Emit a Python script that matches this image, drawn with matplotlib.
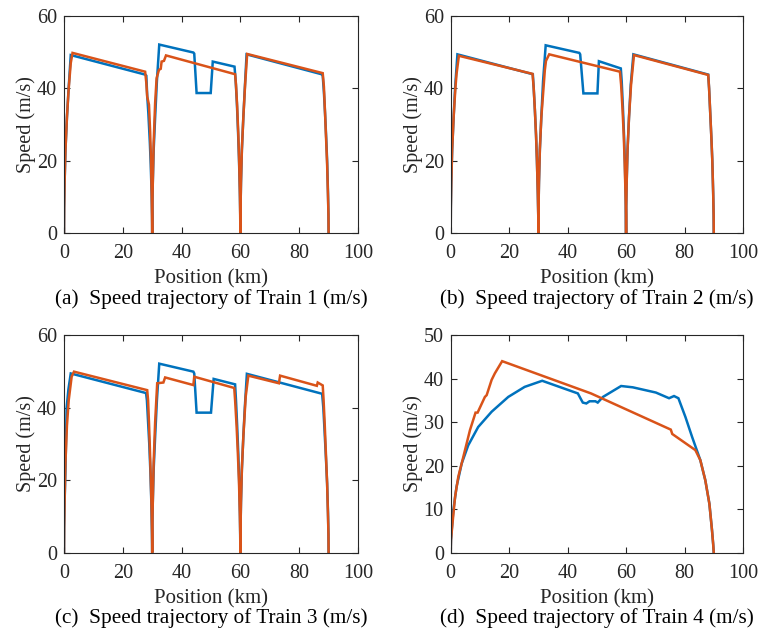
import matplotlib
matplotlib.use("Agg")
import matplotlib.pyplot as plt

plt.rcParams['font.family'] = ['Liberation Serif', 'DejaVu Serif']
plt.rcParams['font.size'] = 14

BLUE = '#0072BD'
ORANGE = '#D95319'

# ---------------- data (position km, speed m/s) ----------------
A_BLUE_X = [0, 0.05, 0.2, 0.5, 1.0, 1.5, 2.3, 27.6, 28.0, 28.3, 28.7, 29.2, 29.5, 29.8, 29.95, 30,
            30.05, 30.2, 30.5, 31.0, 31.6, 32.4, 44.0, 44.3, 45.1, 49.9, 50.6, 58.0,
            58.4, 58.8, 59.2, 59.5, 59.8, 59.95, 60,
            60.05, 60.2, 60.5, 61.0, 61.5, 62.1, 87.6, 88.0, 88.4, 88.8, 89.2, 89.5, 89.8, 89.95, 90]
A_BLUE_V = [0, 7, 14, 23, 32, 39, 49.2, 43.8, 43.5, 38, 33, 25, 19, 11, 5, 0,
            7, 14, 23, 32, 42, 52.1, 49.9, 49.6, 38.7, 38.7, 47.4, 46.0,
            42, 36, 28, 21, 12, 5, 0,
            7, 14, 23, 32, 40, 49.4, 43.9, 43.5, 39, 33, 26, 20, 11, 5, 0]

A_ORANGE_X = [0, 0.05, 0.2, 0.5, 1.0, 1.6, 2.3, 2.9, 27.6, 28.0, 28.3, 28.9, 29.3, 29.6, 29.85, 30,
              30.05, 30.2, 30.5, 31.0, 31.5, 32.3, 32.9, 33.2, 34.0, 34.7, 58.2,
              58.5, 58.9, 59.3, 59.6, 59.85, 60,
              60.05, 60.2, 60.5, 61.0, 61.6, 62.3, 88.0, 88.4, 88.8, 89.2, 89.5, 89.8, 89.95, 90]
A_ORANGE_V = [0, 7, 14, 23, 32, 40, 47, 49.8, 44.6, 41.5, 37.7, 35.5, 28, 20, 10, 0,
              7, 14, 25, 36, 42.8, 45.1, 45.4, 47.4, 47.6, 49.1, 43.9,
              41, 35, 27, 19, 10, 0,
              7, 14, 23, 32, 41, 49.5, 44.2, 40.5, 33, 25, 19, 10, 5, 0]

B_BLUE_X = [0, 0.05, 0.2, 0.5, 1.0, 1.5, 2.3, 28.1, 28.4, 28.8, 29.2, 29.5, 29.8, 29.95, 30,
            30.05, 30.2, 30.5, 31.0, 31.6, 32.5, 44.0, 44.3, 45.4, 50.2, 50.7, 58.2,
            58.5, 58.9, 59.3, 59.6, 59.85, 60,
            60.05, 60.2, 60.5, 61.0, 61.6, 62.5, 88.1, 88.4, 88.8, 89.2, 89.5, 89.8, 89.95, 90]
B_BLUE_V = [0, 7, 14, 23, 32, 40, 49.4, 43.9, 40, 34, 27, 20, 11, 5, 0,
            7, 14, 23, 32, 42, 51.9, 49.8, 49.4, 38.6, 38.6, 47.5, 45.5,
            42, 35, 27, 19, 10, 0,
            7, 14, 23, 32, 41, 49.4, 43.8, 40, 33, 26, 20, 11, 5, 0]

B_ORANGE_X = [0, 0.05, 0.2, 0.5, 1.0, 1.6, 2.0, 2.8, 28.0, 28.4, 28.8, 29.2, 29.5, 29.8, 29.95, 30,
              30.05, 30.2, 30.5, 31.0, 31.7, 32.2, 32.6, 33.7, 57.9,
              58.3, 58.8, 59.2, 59.5, 59.8, 59.95, 60,
              60.05, 60.2, 60.5, 61.0, 61.7, 62.7, 88.1, 88.4, 88.8, 89.2, 89.5, 89.8, 89.95, 90]
B_ORANGE_V = [0, 7, 14, 23, 32, 40, 44, 49.0, 44.0, 40, 34, 27, 20, 11, 5, 0,
              7, 14, 23, 32, 39.5, 45, 47.6, 49.4, 44.6,
              41, 34, 27, 20, 11, 5, 0,
              7, 14, 23, 32, 41, 49.2, 43.7, 40, 33, 26, 20, 11, 5, 0]

C_BLUE_X = [0, 0.05, 0.2, 0.5, 0.9, 1.5, 2.3, 27.9, 28.2, 28.6, 29.0, 29.4, 29.7, 29.9, 30,
            30.05, 30.2, 30.5, 31.0, 31.6, 32.4, 44.0, 44.3, 45.1, 50.0, 50.9, 58.2,
            58.5, 58.9, 59.3, 59.6, 59.85, 60,
            60.05, 60.2, 60.5, 61.0, 61.5, 62.2, 87.8, 88.2, 88.6, 89.1, 89.5, 89.8, 89.95, 90]
C_BLUE_V = [0, 7, 14, 23, 40, 45, 49.4, 44.0, 42, 36, 30, 22, 14, 6, 0,
            7, 14, 23, 32, 42, 52.1, 49.9, 49.4, 38.6, 38.6, 47.9, 46.4,
            42, 35, 27, 19, 10, 0,
            7, 14, 23, 32, 40, 49.3, 43.8, 40, 34, 26, 19, 11, 5, 0]

C_ORANGE_X = [0, 0.05, 0.2, 0.5, 1.0, 1.6, 2.6, 3.4, 28.3, 28.6, 28.9, 29.2, 29.5, 29.8, 29.95, 30,
              30.05, 30.2, 30.5, 31.0, 31.7, 33.8, 34.4, 44.0, 44.3, 57.9,
              58.2, 58.7, 59.1, 59.5, 59.8, 59.95, 60,
              60.05, 60.2, 60.5, 61.0, 61.8, 62.7, 73.1, 73.5, 86.0, 86.3, 88.0,
              88.3, 88.7, 89.1, 89.5, 89.8, 89.95, 90]
C_ORANGE_V = [0, 7, 14, 25, 35, 42, 48.5, 49.9, 44.8, 42, 36, 29, 21, 12, 5, 0,
              7, 14, 25, 36, 46.7, 46.9, 48.3, 46.2, 48.5, 45.4,
              42, 35, 28, 20, 11, 5, 0,
              7, 14, 23, 32, 43, 48.8, 46.7, 48.8, 46.0, 46.9, 46.1,
              42, 35, 27, 19, 10, 5, 0]

D_BLUE_X = [0, 0.1, 0.34, 0.9, 2.0, 3.75, 6.0, 9.4, 14, 19.7, 25.3, 31.3, 43.5, 44.7, 45.2, 46.4,
            47.5, 49.5, 50.3, 52.1, 58.3, 62.3, 70.2, 74.7, 76.4, 77.9, 80.3, 82.6, 85.4,
            87.1, 88.5, 89.4, 89.8, 90]
D_BLUE_V = [0, 3, 5.2, 9.8, 15.2, 20.5, 24.7, 28.9, 32.4, 35.8, 38.1, 39.5, 36.6, 35.1, 34.5, 34.3,
            34.8, 34.8, 34.5, 35.8, 38.3, 38.0, 36.8, 35.5, 36.0, 35.5, 31.2, 26.6, 21.3,
            16.7, 11.3, 5.2, 2, 0]

D_ORANGE_X = [0, 0.1, 0.6, 1.5, 2.6, 4.3, 6.6, 8.5, 9.2, 11.7, 12.3, 14, 15.1, 17.6, 48.0, 75.3,
              75.8, 83.7, 85.4, 87.1, 88.5, 89.4, 89.8, 90]
D_ORANGE_V = [0, 3, 6.7, 12.9, 17.5, 22, 28.2, 32.2, 32.2, 35.8, 36.2, 39.7, 41.2, 44, 36.6, 28.3,
              27.3, 23.6, 21.3, 16.7, 11.3, 5.2, 2, 0]

X_TICKS = [0, 20, 40, 60, 80, 100]
Y_TICKS_ABC = [0, 20, 40, 60]
Y_TICKS_D = [0, 10, 20, 30, 40, 50]
CAPTIONS = ['(a)  Speed trajectory of Train 1 (m/s)',
            '(b)  Speed trajectory of Train 2 (m/s)',
            '(c)  Speed trajectory of Train 3 (m/s)',
            '(d)  Speed trajectory of Train 4 (m/s)']

W, H = 761, 635
fig = plt.figure(figsize=(W / 100, H / 100), dpi=100)

boxes = [(64, 16, 358, 233), (450.7, 16, 743, 233),
         (64, 335, 358, 552.7), (450.7, 335, 743, 553)]
series = [(A_BLUE_X, A_BLUE_V, A_ORANGE_X, A_ORANGE_V),
          (B_BLUE_X, B_BLUE_V, B_ORANGE_X, B_ORANGE_V),
          (C_BLUE_X, C_BLUE_V, C_ORANGE_X, C_ORANGE_V),
          (D_BLUE_X, D_BLUE_V, D_ORANGE_X, D_ORANGE_V)]
cap_y = [299, 299, 618, 618]
FS = 15

for i, ((x0, y0, x1, y1), (bx, bv, ox, ov)) in enumerate(zip(boxes, series)):
    ax = fig.add_axes([x0 / W, 1 - y1 / H, (x1 - x0) / W, (y1 - y0) / H])
    ax.plot(bx, bv, color=BLUE, lw=1.8, solid_joinstyle='miter')
    ax.plot(ox, ov, color=ORANGE, lw=1.8, solid_joinstyle='miter')
    ax.set_xlim(0, 100)
    ax.set_xticks(X_TICKS)
    if i == 3:
        ax.set_ylim(0, 50)
        ax.set_yticks(Y_TICKS_D)
    else:
        ax.set_ylim(0, 60)
        ax.set_yticks(Y_TICKS_ABC)
    ax.tick_params(direction='in', top=True, right=True, length=4, width=0.8,
                   colors='#262626', labelsize=14.5)
    ax.tick_params(axis='x', pad=8)
    ax.tick_params(axis='y', pad=5)
    for sp in ax.spines.values():
        sp.set_color('#262626')
        sp.set_linewidth(0.8)
    ax.set_xlabel('Position (km)', fontsize=FS, labelpad=4.5, color='#262626')
    ax.set_ylabel('Speed (m/s)', fontsize=14.5, labelpad=0.5, color='#262626')
    fig.text(((x0 + x1) / 2) / W, 1 - cap_y[i] / H, CAPTIONS[i], ha='center',
             va='center', fontsize=15.3, color='black')

fig.savefig('out.png', dpi=100)
